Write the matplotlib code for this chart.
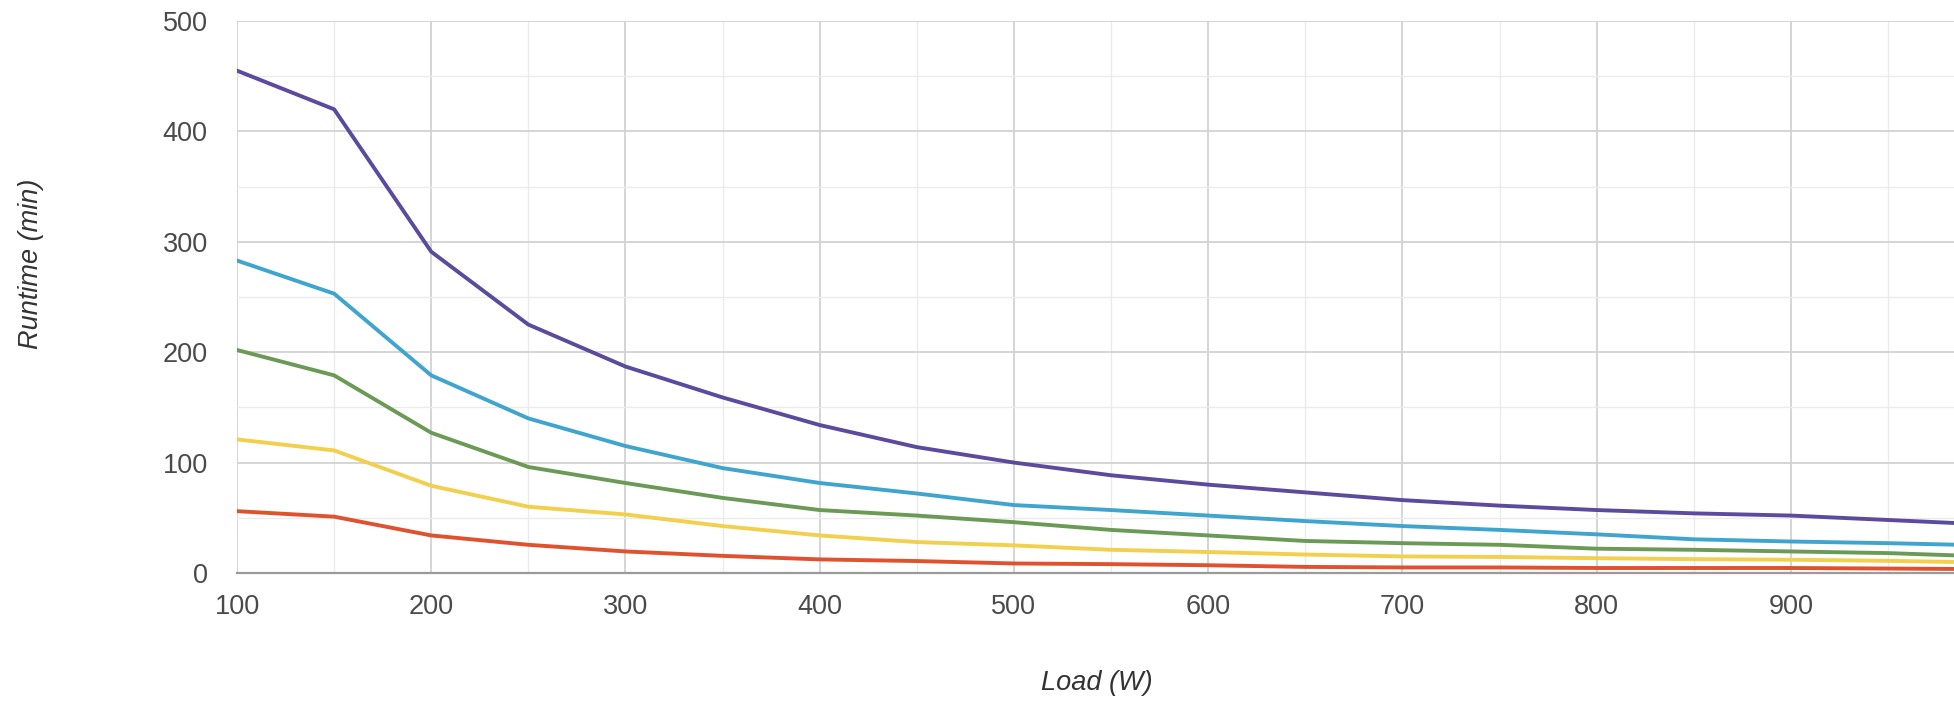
import matplotlib.pyplot as plt
from matplotlib.ticker import MultipleLocator

plt.rcParams['font.family'] = ['Liberation Sans', 'DejaVu Sans']

# Data
loads = [100, 150, 200, 250, 300, 350, 400, 450, 500, 550,
         600, 650, 700, 750, 800, 850, 900, 950, 1000]

runtime_purple = [455, 420, 291, 225, 187, 159, 134, 114, 100, 88.5,
                  80, 73, 66, 61, 57, 54, 52, 48, 44]
runtime_cyan = [283, 253, 179, 140, 115, 95, 81.5, 72, 61.5, 57,
                52, 47, 42.5, 39, 35, 30.5, 28.5, 27, 25]
runtime_green = [202, 179, 127, 96, 81.5, 68, 57, 52, 46, 39,
                 34, 29, 27, 25.5, 22, 21, 19.5, 18, 15]
runtime_yellow = [121, 111, 79, 60, 53, 42.5, 34, 28, 25, 21,
                  19, 16.7, 15, 14.5, 13.4, 12.5, 12, 11, 9.5]
runtime_red = [56, 51, 34, 25.5, 19.5, 15.5, 12.3, 10.8, 8.6, 8,
               7, 5.5, 5, 5, 4.5, 4.5, 4.5, 4, 3.5]

series = [
    (runtime_purple, "#5b4b9e"),
    (runtime_cyan, "#3fa5cf"),
    (runtime_green, "#6b9a56"),
    (runtime_yellow, "#f2cf4c"),
    (runtime_red, "#e0522e"),
]

fig = plt.figure(figsize=(19.54, 7.02), dpi=100)
ax = fig.add_axes([0.1213, 0.1838, 0.8787, 0.7863])

for values, color in series:
    ax.plot(loads, values, color=color, linewidth=2.8, solid_joinstyle="round",
            zorder=3)

# Axes limits (chart is cropped on the right)
ax.set_xlim(100, 984)
ax.set_ylim(0, 500)

ax.xaxis.set_major_locator(MultipleLocator(100))
ax.xaxis.set_minor_locator(MultipleLocator(50))
ax.yaxis.set_major_locator(MultipleLocator(100))
ax.yaxis.set_minor_locator(MultipleLocator(50))

ax.grid(which="major", color="#d2d2d2", linewidth=1.3, zorder=0)
ax.grid(which="minor", color="#ebebeb", linewidth=1.0, zorder=0)

for side in ["top", "right", "left"]:
    ax.spines[side].set_visible(False)
ax.spines["bottom"].set_color("#9a9a9a")
ax.spines["bottom"].set_linewidth(1.6)
ax.spines["bottom"].set_zorder(4)

ax.tick_params(which="both", length=0)
ax.tick_params(axis="x", pad=15, labelsize=19.5, labelcolor="#4a4a4a")
ax.tick_params(axis="y", pad=21, labelsize=19.5, labelcolor="#4a4a4a")

# Axis titles
fig.text(1097 / 1954, 1 - 683 / 702, "Load (W)", fontsize=19.5,
         style="italic", color="#333333", ha="center", va="center")
fig.text(31 / 1954, 1 - 264 / 702, "Runtime (min)", fontsize=19.5,
         style="italic", color="#333333", ha="center", va="center",
         rotation=90)

fig.savefig("out.png", dpi=100)
